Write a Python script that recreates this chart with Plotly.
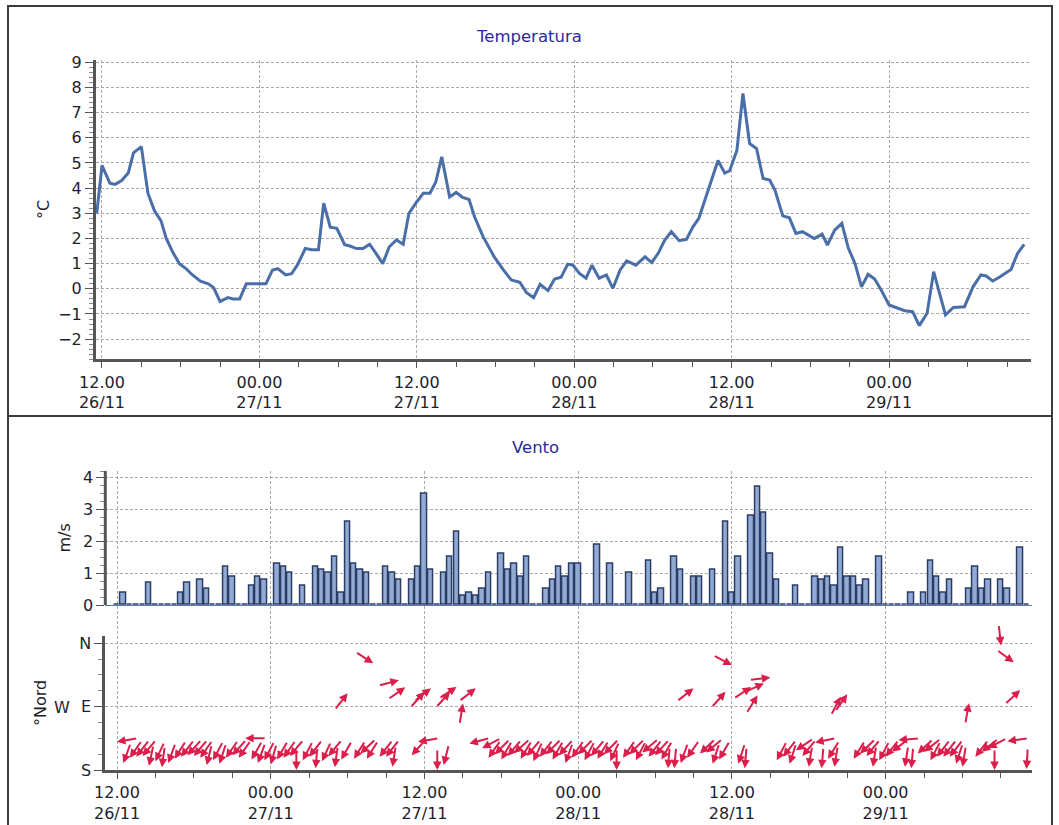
import math
import plotly.graph_objects as go

W, H = 1059, 825

# ---------------- data ----------------
# Temperature: hours since 26/11 00:00, values in °C
temp_hours = [11.6, 12.0, 12.6, 13.0, 13.5, 14.0, 14.4, 15.0, 15.5, 16.0, 16.5, 16.9, 17.4, 17.9,
              18.4, 18.9, 19.5, 20.1, 20.5, 21.0, 21.6, 22.0, 22.5, 23.0, 23.5, 24.5, 25.0, 25.4,
              26.0, 26.45, 26.9, 27.5, 28.0, 28.5, 28.9, 29.4, 29.9, 30.5, 30.9, 31.4, 31.9, 32.4,
              32.9, 33.4, 33.9, 34.45, 34.96, 35.4, 36.0, 36.5, 37.0, 37.45, 37.9, 38.5, 39.0, 39.5,
              39.98, 40.4, 41.05, 41.9, 42.6, 43.2, 43.85, 44.35, 44.9, 45.4, 46.0, 46.5, 47.0, 47.5,
              47.9, 48.4, 48.9, 49.35, 49.9, 50.45, 50.95, 51.5, 52.0, 52.7, 53.4, 53.9, 54.4, 54.9,
              55.4, 56.0, 56.55, 57.05, 57.5, 58.3, 58.96, 59.47, 59.85, 60.4, 60.86, 61.37, 61.9,
              62.4, 62.9, 63.3, 63.9, 64.4, 64.9, 65.4, 66.3, 66.9, 67.3, 67.85, 68.4, 68.9, 69.4,
              69.9, 70.4, 70.9, 71.4, 72.0, 72.6, 73.2, 73.8, 74.3, 74.9, 75.4, 75.85, 76.3, 76.9,
              77.75, 78.4, 79.0, 79.4, 79.9, 80.4, 81.3, 81.8, 82.3]
temp_values = [3.0, 4.9, 4.2, 4.15, 4.3, 4.6, 5.4, 5.65, 3.8, 3.1, 2.7, 2.0, 1.45, 1.0,
               0.8, 0.55, 0.3, 0.2, 0.05, -0.5, -0.35, -0.4, -0.4, 0.2, 0.2, 0.2, 0.75, 0.8,
               0.55, 0.6, 0.95, 1.6, 1.55, 1.55, 3.4, 2.45, 2.4, 1.75, 1.7, 1.6, 1.6, 1.77,
               1.4, 1.0, 1.67, 1.94, 1.77, 3.0, 3.46, 3.8, 3.8, 4.25, 5.24, 3.65, 3.83, 3.63,
               3.55, 2.86, 2.07, 1.27, 0.75, 0.35, 0.26, -0.14, -0.35, 0.18, -0.07, 0.39, 0.46, 0.98,
               0.94, 0.61, 0.42, 0.94, 0.42, 0.55, 0.02, 0.75, 1.11, 0.94, 1.27, 1.04, 1.41, 1.94,
               2.27, 1.91, 1.96, 2.46, 2.8, 4.05, 5.1, 4.6, 4.69, 5.5, 7.76, 5.77, 5.57,
               4.38, 4.32, 3.92, 2.9, 2.82, 2.2, 2.27, 2.0, 2.17, 1.74, 2.33, 2.6, 1.61, 1.01,
               0.08, 0.58, 0.39, -0.05, -0.64, -0.74, -0.87, -0.91, -1.46, -0.97, 0.68, -0.18, -1.04, -0.74,
               -0.71, 0.08, 0.55, 0.51, 0.31, 0.46, 0.77, 1.41, 1.77]

# Wind: half-hourly samples, hours since 26/11 00:00
wind_hours = [12.0, 12.5, 13.0, 13.5, 14.0, 14.5, 15.0, 15.5, 16.0, 16.5, 17.0, 17.5, 18.0, 18.5,
              19.0, 19.5, 20.0, 20.5, 21.0, 21.5, 22.0, 22.5, 23.0, 23.5, 24.0, 24.5, 25.0, 25.5,
              26.0, 26.5, 27.0, 27.5, 28.0, 28.5, 29.0, 29.5, 30.0, 30.5, 31.0, 31.5, 32.0, 32.5,
              33.0, 33.5, 34.0, 34.5, 35.0, 35.5, 36.0, 36.5, 37.0, 37.5, 38.0, 38.5, 39.0, 39.5,
              40.0, 40.5, 41.0, 41.5, 42.0, 42.5, 43.0, 43.5, 44.0, 44.5, 45.0, 45.5, 46.0, 46.5,
              47.0, 47.5, 48.0, 48.5, 49.0, 49.5, 50.0, 50.5, 51.0, 51.5, 52.0, 52.5, 53.0, 53.5,
              54.0, 54.5, 55.0, 55.5, 56.0, 56.5, 57.0, 57.5, 58.0, 58.5, 59.0, 59.5, 60.0, 60.5,
              61.0, 61.5, 62.0, 62.5, 63.0, 63.5, 64.0, 64.5, 65.0, 65.5, 66.0, 66.5, 67.0, 67.5,
              68.0, 68.5, 69.0, 69.5, 70.0, 70.5, 71.0, 71.5, 72.0, 72.5, 73.0, 73.5, 74.0, 74.5,
              75.0, 75.5, 76.0, 76.5, 77.0, 77.5, 78.0, 78.5, 79.0, 79.5, 80.0, 80.5, 81.0, 81.5,
              82.0, 82.5, 83.0]
wind_speed = [0, 0.4, 0, 0, 0, 0.7, 0, 0, 0, 0,
              0.4, 0.7, 0, 0.8, 0.5, 0, 0, 1.2, 0.9, 0,
              0, 0.6, 0.9, 0.8, 0, 1.3, 1.2, 1.0, 0, 0.6,
              0, 1.2, 1.1, 1.0, 1.5, 0.4, 2.6, 1.3, 1.1, 1.0,
              0, 0, 1.2, 1.0, 0.8, 0, 0.8, 1.2, 3.5, 1.1,
              0, 1.0, 1.5, 2.3, 0.3, 0.4, 0.3, 0.5, 1.0, 0,
              1.6, 1.1, 1.3, 0.9, 1.5, 0, 0, 0.5, 0.8, 1.2,
              0.9, 1.3, 1.3, 0, 0, 1.9, 0, 1.3, 0, 0,
              1.0, 0, 0, 1.4, 0.4, 0.5, 0, 1.5, 1.1, 0,
              0.9, 0.9, 0, 1.1, 0, 2.6, 0.4, 1.5, 0, 2.8,
              3.7, 2.9, 1.6, 0.8, 0, 0, 0.6, 0, 0, 0.9,
              0.8, 0.9, 0.6, 1.8, 0.9, 0.9, 0.6, 0.8, 0, 1.5,
              0, 0, 0, 0, 0.4, 0, 0.4, 1.4, 0.9, 0.4,
              0.8, 0, 0, 0.5, 1.2, 0.5, 0.8, 0, 0.8, 0.5,
              0, 1.8, 0]
# wind direction (degrees the wind comes from)
wind_dir = [80, 20, 35, 38, 40, 12, 25, 8, 20, 32,
            38, 42, 40, 35, 14, 28, 18, 35, 42, 35,
            90, 30, 20, 28, 16, 30, 35, 40, 0, 28,
            38, 5, 25, 40, 8, 30, 218, 32, 47, 32,
            303, 38, 38, 9, 255, 235, 42, 80, 222, 232,
            0, 14, 222, 236, 189, 75, 232, 62, 35, 45,
            30, 40, 48, 32, 40, 25, 38, 45, 30, 42,
            20, 35, 45, 28, 40, 32, 45, 25, 0, 35,
            45, 28, 50, 38, 42, 30, 5, 5, 20, 35,
            232, 47, 50, 18, 30, 222, 298, 18, 5, 236,
            212, 246, 263, 28, 38, 18, 56, 40, 9, 78,
            5, 32, 9, 208, 215, 32, 47, 40, 9, 28,
            38, 52, 85, 9, 5, 47, 52, 28, 38, 38,
            38, 18, 9, 190, 38, 52, 62, 0, 354, 82,
            306, 227, 3]

x_tick_hours = [12, 24, 36, 48, 60, 72]
x_tick_labels = ["12.00<br>26/11", "00.00<br>27/11", "12.00<br>27/11",
                 "00.00<br>28/11", "12.00<br>28/11", "00.00<br>29/11"]
temp_ticks = [-2, -1, 0, 1, 2, 3, 4, 5, 6, 7, 8, 9]
speed_ticks = [0, 1, 2, 3, 4]
dir_tick_vals = [0, 180, 360]
dir_tick_labels = ["S", "E", "N"]

# ---------------- styling ----------------
FONT = "DejaVu Sans"
TICKFONT = dict(family=FONT, size=16, color="#1e1e2c")
AXIS_COL = "#555555"
GRID_COL = "#a9a9a9"
GRID_DASH = "3px,2px"
TITLE_COL = "#2a2a9c"


def px(x):
    return x / W


def py(y):
    return 1 - y / H


fig = go.Figure()

fig.add_trace(go.Scatter(
    x=temp_hours, y=temp_values, mode="lines",
    line=dict(color="#4a6ea8", width=3), xaxis="x", yaxis="y", showlegend=False,
    hoverinfo="skip"))

fig.add_trace(go.Bar(
    x=wind_hours, y=wind_speed, width=0.42,
    marker=dict(color="#93aad2", line=dict(color="#2b3d66", width=1.5)),
    xaxis="x2", yaxis="y2", showlegend=False, hoverinfo="skip"))

# invisible scatter so the direction axes exist
fig.add_trace(go.Scatter(x=wind_hours, y=wind_dir, mode="markers",
                         marker=dict(size=1, color="rgba(0,0,0,0)"),
                         xaxis="x3", yaxis="y3", showlegend=False, hoverinfo="skip"))

xdom_top = [px(96), px(1031)]
xdom_bot = [px(105.3), px(1031.7)]

common_x = dict(tickmode="array", tickvals=x_tick_hours, showgrid=True,
                gridcolor=GRID_COL, griddash=GRID_DASH, gridwidth=1,
                zeroline=False, tickfont=TICKFONT, automargin=False)

fig.update_layout(
    width=W, height=H, autosize=False,
    margin=dict(l=0, r=0, t=0, b=0, pad=0),
    paper_bgcolor="white", plot_bgcolor="white",
    bargap=0,
    xaxis=dict(domain=xdom_top, anchor="y", range=[11.543, 82.82],
               ticktext=x_tick_labels, showline=True, linecolor=AXIS_COL, linewidth=3,
               ticks="outside", ticklen=6, tickcolor=AXIS_COL,
               minor=dict(tickmode="linear", tick0=0, dtick=3, ticks="outside",
                          ticklen=5, tickcolor=AXIS_COL, showgrid=False),
               **common_x),
    yaxis=dict(domain=[py(359.3), py(60)], anchor="x", range=[-2.80, 9.09],
               tickmode="array", tickvals=temp_ticks, showgrid=True, automargin=False,
               gridcolor=GRID_COL, griddash=GRID_DASH, zeroline=False,
               showline=True, linecolor=AXIS_COL, linewidth=3,
               ticks="outside", ticklen=8, tickcolor=AXIS_COL, tickfont=TICKFONT,
               minor=dict(tickmode="linear", tick0=0, dtick=0.2, ticks="outside",
                          ticklen=4, tickcolor="#888888", showgrid=False)),
    xaxis2=dict(domain=xdom_bot, anchor="y2", range=[11.087, 83.40],
                showticklabels=False, ticks="", showline=False, **common_x),
    yaxis2=dict(domain=[py(635.7), py(470.7)], anchor="x2", range=[-0.962, 4.21],
                tickmode="array", tickvals=speed_ticks, showgrid=True, automargin=False,
                gridcolor=GRID_COL, griddash=GRID_DASH,
                zeroline=True, zerolinecolor="#5a7ab0", zerolinewidth=1.3,
                showline=False, ticks="outside", ticklen=8, tickcolor=AXIS_COL,
                tickfont=TICKFONT,
                minor=dict(tickmode="array",
                           tickvals=[0.25, 0.5, 0.75, 1.25, 1.5, 1.75, 2.25, 2.5, 2.75,
                                     3.25, 3.5, 3.75, 4.2],
                           ticks="outside", ticklen=4, tickcolor="#888888", showgrid=False)),
    xaxis3=dict(domain=xdom_bot, anchor="y3", range=[11.087, 83.40],
                ticktext=x_tick_labels, showline=True, linecolor=AXIS_COL, linewidth=3,
                ticks="outside", ticklen=6, tickcolor=AXIS_COL,
                minor=dict(tickmode="linear", tick0=0, dtick=3, ticks="outside",
                           ticklen=5, tickcolor=AXIS_COL, showgrid=False),
                **common_x),
    yaxis3=dict(domain=[py(770), py(635.7)], anchor="x3", range=[0, 381.6],
                tickmode="array", tickvals=dir_tick_vals, ticktext=dir_tick_labels,
                showgrid=True, gridcolor=GRID_COL, griddash=GRID_DASH, zeroline=False,
                showline=True, linecolor=AXIS_COL, linewidth=3, automargin=False,
                ticks="outside", ticklen=8, tickcolor=AXIS_COL, tickfont=TICKFONT,
                minor=dict(tickmode="array", tickvals=[45, 90, 135, 225, 270, 315],
                           ticks="outside", ticklen=4, tickcolor="#888888", showgrid=False)),
)

# y axis line of the speed panel (only from 0 to top)
fig.add_shape(type="line", xref="x2 domain", yref="y2", x0=0, x1=0, y0=0, y1=4.21,
              line=dict(color=AXIS_COL, width=3))

# frames around the two panels
frame = dict(color="#3c3c3c", width=2)
fig.add_shape(type="rect", xref="paper", yref="paper", x0=px(8), x1=px(1052),
              y0=py(416), y1=py(6), line=frame)
fig.add_shape(type="line", xref="paper", yref="paper", x0=px(8), x1=px(8),
              y0=py(416), y1=0, line=frame)
fig.add_shape(type="line", xref="paper", yref="paper", x0=px(1052), x1=px(1052),
              y0=py(416), y1=0, line=frame)

annotations = []


def text_ann(x, y, text, color="#1e1e2c", size=16, angle=0):
    annotations.append(dict(x=px(x), y=py(y), xref="paper", yref="paper", text=text,
                            showarrow=False, textangle=angle, xanchor="center",
                            yanchor="middle", font=dict(family=FONT, size=size, color=color)))


text_ann(529, 36.5, "Temperatura", color=TITLE_COL, size=16.5)
text_ann(535, 447, "Vento", color=TITLE_COL, size=16.5)
text_ann(44, 210, "°C", angle=-90)
text_ann(63.5, 538, "m/s", angle=-90)
text_ann(40, 703, "°Nord", angle=-90)
text_ann(61.5, 707.5, "W")

# wind direction arrows (head at the direction value, pointing where the wind goes)
L = 21
for t, d in zip(wind_hours, wind_dir):
    b = math.radians((d + 180) % 360)
    annotations.append(dict(
        x=t, y=d, xref="x3", yref="y3", text="", showarrow=True,
        ax=-L * math.sin(b), ay=L * math.cos(b), axref="pixel", ayref="pixel",
        arrowhead=2, arrowsize=0.85, arrowwidth=2, arrowcolor="#dc1e4b", standoff=0))

fig.update_layout(annotations=annotations)

fig.write_html("out.html", config={"displayModeBar": False},
               post_script="document.body.style.margin='0px';")
